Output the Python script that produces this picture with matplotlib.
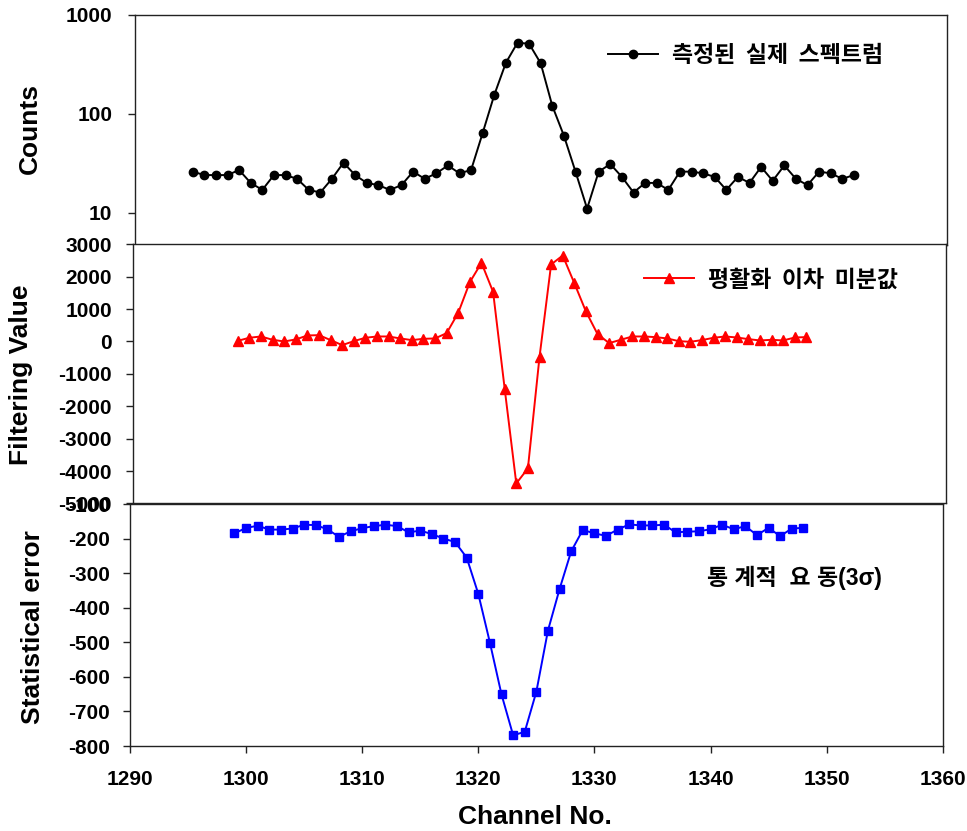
import numpy as np
import matplotlib
matplotlib.use("Agg")
import matplotlib.pyplot as plt
from matplotlib.ticker import FixedLocator, NullLocator, FixedFormatter

plt.rcParams['font.family'] = ['Liberation Sans', 'Noto Sans CJK KR', 'DejaVu Sans']
plt.rcParams['font.weight'] = 'bold'
plt.rcParams['axes.unicode_minus'] = False

# 측정 스펙트럼 (채널 1295 ~ 1352)
count_channels = np.arange(1295, 1353)
counts = [26, 24, 24, 24, 27, 20, 17, 24, 24, 22,
          17, 16, 22, 32, 24, 20, 19, 17, 19, 26,
          22, 25, 30, 25, 27, 64, 155, 327, 521, 509,
          323, 120, 60, 26, 11, 26, 31, 23, 16, 20,
          20, 17, 26, 26, 25, 23, 17, 23, 20, 29,
          21, 30, 22, 19, 26, 25, 22, 24]

# 평활화 이차 미분값 / 통계적 요동 (채널 1299 ~ 1348)
filter_channels = np.arange(1299, 1349)
filter_values = [20, 114, 154, 52, 0, 62, 185, 195, 42, -113,
                 10, 114, 154, 154, 93, 42, 82, 93, 258, 886,
                 1832, 2428, 1533, -1461, -4383, -3920, -482, 2377, 2654, 1801,
                 926, 228, -51, 52, 154, 154, 134, 93, 10, -10,
                 42, 114, 154, 123, 72, 31, 52, 31, 123, 134]
stat_error = [-185, -169, -163, -174, -174, -171, -160, -161, -173, -195,
              -179, -170, -164, -160, -164, -182, -177, -187, -200, -210,
              -255, -360, -501, -651, -769, -759, -643, -466, -346, -237,
              -175, -185, -192, -174, -159, -162, -162, -160, -182, -180,
              -179, -173, -160, -173, -164, -190, -169, -193, -171, -169]

x_ticks = [1290, 1300, 1310, 1320, 1330, 1340, 1350, 1360]

W, H = 967, 831
fig = plt.figure(figsize=(W / 100, H / 100), dpi=100)


def px_axes(left, top, right, bottom):
    return fig.add_axes([left / W, 1 - bottom / H, (right - left) / W, (bottom - top) / H])


ax1 = px_axes(134.7, 14.7, 946.7, 245)
ax2 = px_axes(133.3, 244.3, 945.7, 503.4)
ax3 = px_axes(130, 504, 942.7, 746)

for ax, pad in ((ax1, 11), (ax2, 10.5), (ax3, 9.5)):
    ax.set_xlim(1290, 1360)
    for s in ax.spines.values():
        s.set_linewidth(1.0)
        s.set_color('#222222')
    ax.tick_params(axis='y', direction='out', length=5, width=1, pad=pad,
                   labelsize=15, color='#222222')
    ax.yaxis.set_minor_locator(NullLocator())

legend_font = {'family': ['Noto Sans CJK KR'], 'size': 16.5, 'weight': 'bold'}

# 상단: 측정된 스펙트럼 (log)
ax1.semilogy(count_channels, counts, '-o', color='black', lw=1.4, ms=6,
             label='측정된  실제  스펙트럼')
ax1.set_ylim(4.72, 1000)
ax1.yaxis.set_major_locator(FixedLocator([10, 100, 1000]))
ax1.yaxis.set_major_formatter(FixedFormatter(['10', '100', '1000']))
ax1.yaxis.set_minor_locator(NullLocator())
ax1.set_xticks([])
ax1.legend(loc='center left', bbox_to_anchor=(0.5829, 0.8207), frameon=False,
           borderpad=0, borderaxespad=0, handlelength=2.2, handletextpad=0.6,
           prop=legend_font)

# 중간: 필터링 값
ax2.plot(filter_channels, filter_values, '-^', color='#ff0000', lw=1.4, ms=7,
         label='평활화  이차  미분값')
ax2.set_ylim(-5000, 3000)
ax2.set_yticks(np.arange(-5000, 3001, 1000))
ax2.set_xticks([])
ax2.legend(loc='center left', bbox_to_anchor=(0.6286, 0.8622), frameon=False,
           borderpad=0, borderaxespad=0, handlelength=2.2, handletextpad=0.6,
           prop=legend_font)

# 하단: 통계적 요동
ax3.plot(filter_channels, stat_error, '-s', color='#0000ff', lw=1.4, ms=5.5)
ax3.set_ylim(-800, -100)
ax3.set_yticks(np.arange(-800, -99, 100))
ax3.set_xticks(x_ticks)
ax3.tick_params(axis='x', direction='out', length=5, width=1, pad=12,
                labelsize=15, color='#222222')
ax3.text(0.710, 0.694, '통 계적  요 동(3σ)', transform=ax3.transAxes,
         ha='left', va='center', fontsize=16.5, fontweight='bold')

# 축 제목
fig.text(30 / W, 1 - 128 / H, 'Counts', rotation=90, ha='center', va='center',
         fontsize=19, fontweight='bold')
fig.text(21 / W, 1 - 375 / H, 'Filtering Value', rotation=90, ha='center', va='center',
         fontsize=19, fontweight='bold')
fig.text(33 / W, 1 - 627 / H, 'Statistical error', rotation=90, ha='center', va='center',
         fontsize=19, fontweight='bold')
fig.text(535 / W, 1 - 817 / H, 'Channel No.', ha='center', va='center',
         fontsize=19, fontweight='bold')

fig.savefig('out.png', dpi=100, facecolor='white')
